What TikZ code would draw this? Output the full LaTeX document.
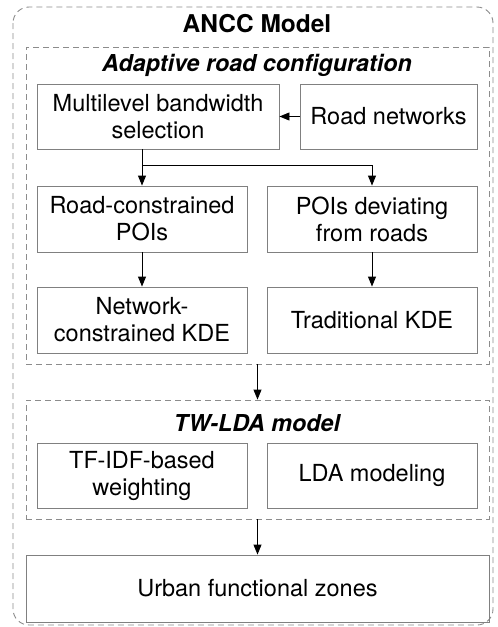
\documentclass[tikz,border=0pt]{standalone}
\usepackage{fontspec}
\setmainfont{TeX Gyre Heros}
\usetikzlibrary{arrows.meta,calc}
\begin{document}
\begin{tikzpicture}[x=1pt,y=1pt,
  font=\fontsize{23.5}{27}\selectfont,
  box/.style={draw=black!50, line width=0.9pt, align=center, inner sep=0pt},
  frame/.style={draw=black!45, line width=0.9pt, dash pattern=on 6pt off 4pt, inner sep=0pt},
  flow/.style={-{Triangle[length=10pt,width=8pt]}, line width=0.9pt, black},
  heading/.style={font=\fontsize{24.5}{28}\selectfont\bfseries},
  subheading/.style={font=\fontsize{23.3}{27}\selectfont\bfseries\itshape}
]
\useasboundingbox (0,0) rectangle (498,-627);

% outer model frame
\draw[frame, rounded corners=16pt] (13,-7) rectangle (493,-625);
\node[heading] (ttl) at (257,-24) {ANCC Model};

% adaptive road configuration group
\node[frame, minimum width=463pt, minimum height=317pt] (grp1) at (257.5,-205.5) {};
\node[subheading] (t1) at (257,-65) {Adaptive road configuration};

\node[box, minimum width=242pt, minimum height=65pt] (mb) at (158,-116.5) {Multilevel bandwidth\\selection};
\node[box, minimum width=177pt, minimum height=65pt] (rn) at (388.5,-116.5) {Road networks};
\node[box, minimum width=210pt, minimum height=66pt] (rc) at (142,-219) {Road-constrained\\POIs};
\node[box, minimum width=210pt, minimum height=66pt] (pd) at (372,-219) {POIs deviating\\from roads};
\node[box, minimum width=210pt, minimum height=66pt] (nk) at (142,-320) {Network-\\constrained KDE};
\node[box, minimum width=210pt, minimum height=66pt] (tk) at (372,-320) {Traditional KDE};

% TW-LDA group
\node[frame, minimum width=463pt, minimum height=119pt] (grp2) at (257.5,-459.5) {};
\node[subheading] (t2) at (257,-423) {TW-LDA model};
\node[box, minimum width=210pt, minimum height=65pt] (tf) at (142,-475.5) {TF-IDF-based\\weighting};
\node[box, minimum width=210pt, minimum height=65pt] (lda) at (372,-475.5) {LDA modeling};

\node[box, minimum width=463pt, minimum height=67pt] (uf) at (257.5,-588.5) {Urban functional zones};

% connectors
\coordinate (split) at (142,-165);
\draw[flow] (rn.west) -- (mb.east);
\draw[line width=0.9pt] (mb.south -| rc.north) -- (split);
\draw[flow] (split) -- (rc.north);
\draw[flow] (split) -| (pd.north);
\draw[flow] (rc.south) -- (nk.north);
\draw[flow] (pd.south) -- (tk.north);
\draw[flow] (grp1.south) -- (grp2.north);
\draw[flow] (grp2.south) -- (uf.north);
\end{tikzpicture}
\end{document}
